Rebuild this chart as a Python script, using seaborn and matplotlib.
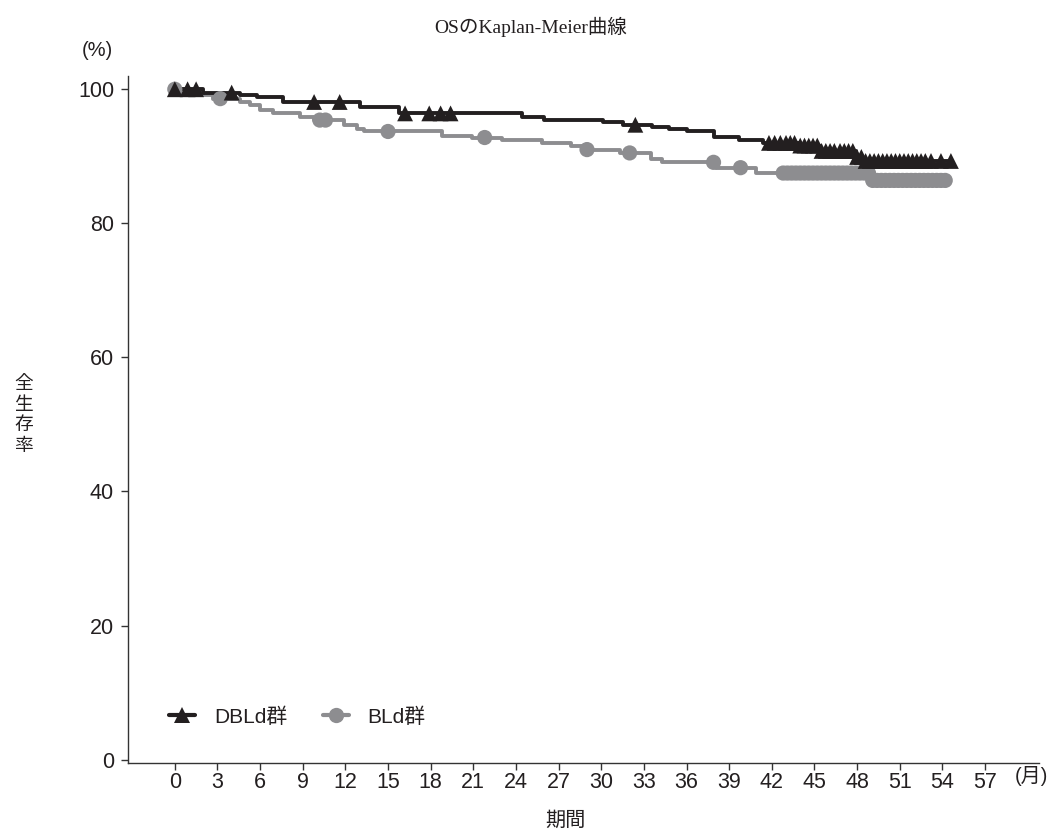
import numpy as np
import pandas as pd
import matplotlib
matplotlib.use("Agg")
import matplotlib.pyplot as plt
from matplotlib.lines import Line2D
import seaborn as sns

# ---- data ----
dbld_time = [0, 2.0, 4.6, 5.8, 7.6, 13.0, 15.8, 24.4, 26.0, 30.1, 31.5, 33.6, 34.8,
             36.0, 37.9, 39.7, 41.4, 43.9, 45.4, 47.9, 48.4, 54.6]
dbld_surv = [100, 99.5, 99.2, 98.8, 98.1, 97.4, 96.4, 95.8, 95.4, 95.1, 94.7, 94.4, 94.0,
             93.7, 92.9, 92.5, 92.0, 91.6, 90.8, 89.9, 89.3, 89.3]
dbld_censor = [0, 0.9, 1.5, 4.0, 9.8, 11.6, 16.2, 17.9, 18.7, 19.4, 32.4,
               41.8, 42.2, 42.6, 43.0, 43.3, 43.6, 44.0, 44.3, 44.6, 44.9, 45.2, 45.5,
               45.8, 46.1, 46.4, 46.8, 47.1, 47.4, 47.7, 48.0, 48.3, 48.6, 48.9, 49.2,
               49.5, 49.8, 50.1, 50.4, 50.7, 51.0, 51.3, 51.6, 51.9, 52.2, 52.5, 52.8,
               53.2, 53.9, 54.6]

bld_time = [0, 0.5, 1.4, 2.7, 4.6, 5.3, 6.0, 6.9, 8.8, 9.8, 11.9, 12.8, 13.3, 18.8, 20.9,
            23.0, 25.8, 27.9, 28.8, 31.3, 33.5, 34.3, 38.1, 40.9, 48.9, 54.4]
bld_surv = [100, 99.4, 99.1, 98.6, 98.1, 97.6, 96.9, 96.4, 95.9, 95.4, 94.6, 94.0, 93.7,
            93.1, 92.8, 92.4, 92.0, 91.5, 91.0, 90.5, 89.6, 89.1, 88.3, 87.5, 86.4, 86.4]
bld_censor = [0, 3.2, 10.2, 10.6, 15.0, 21.8, 29.0, 32.0, 37.9, 39.8,
              42.8, 43.1, 43.4, 43.7, 44.0, 44.3, 44.6, 44.9, 45.2, 45.5, 45.8, 46.1,
              46.4, 46.7, 47.0, 47.3, 47.6, 47.9, 48.2, 48.5, 48.8,
              49.1, 49.4, 49.7, 50.0, 50.3, 50.6, 50.9, 51.2, 51.5, 51.8, 52.1, 52.4,
              52.7, 53.0, 53.3, 53.6, 53.9, 54.2]

x_ticks = list(range(0, 58, 3))
y_ticks = [0, 20, 40, 60, 80, 100]
groups = ["DBLd群", "BLd群"]

BLACK = "#231f20"
GRAY = "#8d8d90"

sns.set_theme(style="ticks")
plt.rcParams['font.family'] = ['Liberation Sans', 'Noto Sans CJK JP']

fig = plt.figure(figsize=(10.57, 8.38), dpi=100)
ax = fig.add_axes([0.121, 0.0895, 0.862, 0.82])


def step_val(t, times, vals):
    idx = np.searchsorted(np.asarray(times), t, side="right") - 1
    return np.asarray(vals)[idx]


curves = [
    (dbld_time, dbld_surv, dbld_censor, BLACK, "^"),
    (bld_time, bld_surv, bld_censor, GRAY, "o"),
]
# draw gray first then black on top
for times, surv, cens, col, mk in curves[::-1]:
    df = pd.DataFrame({"t": times, "s": surv})
    sns.lineplot(data=df, x="t", y="s", ax=ax, color=col, lw=2.8,
                 drawstyle="steps-post", estimator=None, sort=False)
    cdf = pd.DataFrame({"t": cens, "s": step_val(np.asarray(cens), times, surv)})
    sns.scatterplot(data=cdf, x="t", y="s", ax=ax, color=col, marker=mk,
                    s=120 if mk == "o" else 130, edgecolor="none", linewidth=0,
                    zorder=3)

ax.set_xlim(-3.3, 60.8)
ax.set_ylim(-0.5, 102)
ax.set_xticks(x_ticks)
ax.set_yticks(y_ticks)
ax.set_xlabel("")
ax.set_ylabel("")
ax.tick_params(axis="x", direction="out", length=5, width=1, colors="#333333",
               labelcolor="#231f20", labelsize=15.5, pad=1.5)
ax.tick_params(axis="y", direction="out", length=5, width=1, colors="#333333",
               labelcolor="#231f20", labelsize=15.5, pad=5)
sns.despine(ax=ax)
for sp in ["left", "bottom"]:
    ax.spines[sp].set_color("#333333")
    ax.spines[sp].set_linewidth(1.0)

handles = [
    Line2D([0], [0], color=BLACK, lw=3, marker="^", markersize=11, markeredgewidth=0),
    Line2D([0], [0], color=GRAY, lw=3, marker="o", markersize=11, markeredgewidth=0),
]
leg = ax.legend(handles, groups, loc="center left", bbox_to_anchor=(0.025, 0.067),
                ncol=2, frameon=False, fontsize=15, handlelength=1.25,
                handletextpad=0.9, columnspacing=1.7)
for t in leg.get_texts():
    t.set_color("#231f20")

fig.text(0.502, 0.968, "OSのKaplan-Meier曲線", ha="center", va="center",
         fontsize=14, color="#231f20",
         family=["Liberation Serif", "Noto Sans CJK JP"])
fig.text(0.092, 0.940, "(%)", ha="center", va="center", fontsize=14.5, color="#231f20")
fig.text(0.976, 0.074, "(月)", ha="center", va="center", fontsize=14.5, color="#231f20")
fig.text(0.535, 0.021, "期間", ha="center", va="center", fontsize=14.5, color="#231f20")
for i, ch in enumerate("全生存率"):
    fig.text(0.022, 0.541 - i * 0.0245, ch, ha="center", va="center", fontsize=13.5,
             color="#231f20")

fig.savefig("out.png", dpi=100)
